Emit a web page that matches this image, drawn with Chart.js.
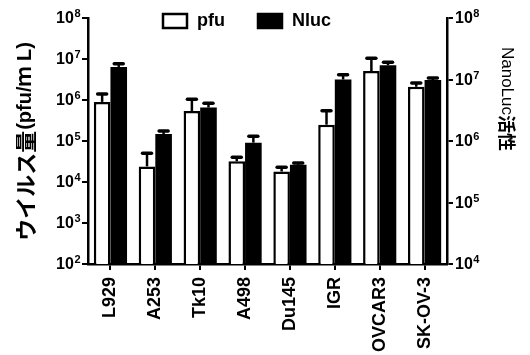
<!DOCTYPE html>
<html>
<head>
<meta charset="utf-8">
<script src="https://cdn.jsdelivr.net/npm/chart.js@4/dist/chart.umd.min.js"></script>
<style>
  html, body { margin: 0; padding: 0; background: #fff; }
  #wrap { width: 530px; height: 355px; }
</style>
</head>
<body>
<div id="wrap"><canvas id="chart" width="530" height="355"></canvas></div>
<script>
// donnees
const cellLines = ['L929', 'A253', 'Tk10', 'A498', 'Du145', 'IGR', 'OVCAR3', 'SK-OV-3'];
const pfuValues = [9.0e5, 2.4e4, 5.4e5, 3.2e4, 1.8e4, 2.5e5, 5.1e6, 2.1e6];
const pfuUpper = [1.4e6, 5.0e4, 1.05e6, 4.0e4, 2.3e4, 5.5e5, 1.05e7, 2.6e6];
const nlucValues = [1.6e7, 1.3e6, 3.5e6, 9.4e5, 4.1e5, 1.0e7, 1.7e7, 9.8e6];
const nlucUpper = [1.8e7, 1.45e6, 4.1e6, 1.2e6, 4.4e5, 1.2e7, 1.9e7, 1.06e7];
const leftTicks = [1e2, 1e3, 1e4, 1e5, 1e6, 1e7, 1e8];
const rightTicks = [1e4, 1e5, 1e6, 1e7, 1e8];

const LATIN = "'Liberation Sans', Arial, sans-serif";
const CJK = "'Noto Sans CJK JP', sans-serif";

// barres d'erreur (vers le haut seulement)
const errorBars = {
    id: 'errorBars',
    afterDatasetsDraw(chart) {
        const ctx = chart.ctx;
        chart.data.datasets.forEach((ds, di) => {
            const meta = chart.getDatasetMeta(di);
            const yScale = chart.scales[ds.yAxisID];
            meta.data.forEach((bar, i) => {
                const top = yScale.getPixelForValue(ds.upper[i]);
                ctx.save();
                ctx.strokeStyle = '#000';
                ctx.lineWidth = 2.5;
                ctx.beginPath();
                ctx.moveTo(bar.x, bar.y);
                ctx.lineTo(bar.x, top);
                ctx.stroke();
                ctx.lineWidth = 3.5;
                ctx.lineCap = 'round';
                ctx.beginPath();
                ctx.moveTo(bar.x - 4.5, top);
                ctx.lineTo(bar.x + 4.5, top);
                ctx.stroke();
                ctx.restore();
            });
        });
    }
};

// etiquettes 10^n avec exposant
function drawPowLabels(ctx, scale, values, side) {
    values.forEach((v) => {
        const y = scale.getPixelForValue(v);
        const exp = String(Math.round(Math.log10(v)));
        ctx.font = 'bold 16px ' + LATIN;
        const wBase = ctx.measureText('10').width;
        ctx.font = 'bold 11px ' + LATIN;
        const wExp = ctx.measureText(exp).width;
        let x = side === 'left' ? scale.right - 8 - wBase - wExp : scale.left + 8;
        ctx.textAlign = 'left';
        ctx.textBaseline = 'middle';
        ctx.font = 'bold 16px ' + LATIN;
        ctx.fillText('10', x, y + 1);
        ctx.font = 'bold 11px ' + LATIN;
        ctx.fillText(exp, x + wBase + 0.5, y - 4);
    });
}

// titres des axes + legende
const decorations = {
    id: 'decorations',
    afterDraw(chart) {
        const ctx = chart.ctx;
        ctx.save();
        ctx.fillStyle = '#000';

        drawPowLabels(ctx, chart.scales.y, leftTicks, 'left');
        drawPowLabels(ctx, chart.scales.y2, rightTicks, 'right');

        ctx.textBaseline = 'middle';
        // titre gauche
        const partA = 'ウイルス量';
        const partB = '(pfu/ｍ L)';
        const fontA = 'bold 22px ' + CJK;
        const fontB = 'bold 20px ' + LATIN + ', ' + CJK;
        ctx.font = fontA;
        const wA = ctx.measureText(partA).width;
        ctx.font = fontB;
        const wB = ctx.measureText(partB).width;
        ctx.save();
        ctx.translate(25, 142);
        ctx.rotate(-Math.PI / 2);
        let x = -(wA + wB) / 2;
        ctx.textAlign = 'left';
        ctx.font = fontA;
        ctx.fillText(partA, x, 1);
        ctx.font = fontB;
        ctx.fillText(partB, x + wA + 1, 0);
        ctx.restore();

        // titre droite
        const partC = 'NanoLuc';
        const partD = '活性';
        const fontC = '17px ' + LATIN;
        const fontD = 'bold 18px ' + CJK;
        ctx.font = fontC;
        const wC = ctx.measureText(partC).width;
        ctx.font = fontD;
        const wD = ctx.measureText(partD).width;
        ctx.save();
        ctx.translate(507, 99);
        ctx.rotate(Math.PI / 2);
        x = -(wC + wD) / 2;
        ctx.font = fontC;
        ctx.fillText(partC, x, 0);
        ctx.font = fontD;
        ctx.fillText(partD, x + wC, 0);
        ctx.restore();

        // legende
        const legendX = [163, 258];
        ctx.font = 'bold 18px ' + LATIN;
        chart.data.datasets.forEach((ds, di) => {
            const lx = legendX[di];
            ctx.fillStyle = ds.backgroundColor;
            ctx.fillRect(lx, 14, 24, 14);
            ctx.strokeStyle = '#000';
            ctx.lineWidth = 2.5;
            ctx.strokeRect(lx, 14, 24, 14);
            ctx.fillStyle = '#000';
            ctx.textAlign = 'left';
            ctx.fillText(ds.label, lx + 34, 21);
        });
        ctx.restore();
    }
};

const axisTickGrid = {
    drawOnChartArea: false,
    drawTicks: true,
    tickLength: 6,
    lineWidth: 2,
    color: '#000'
};

const ctx = document.getElementById('chart').getContext('2d');
new Chart(ctx, {
    type: 'bar',
    data: {
        labels: cellLines,
        datasets: [{
            label: 'pfu',
            data: pfuValues,
            upper: pfuUpper,
            yAxisID: 'y',
            backgroundColor: '#ffffff',
            borderColor: '#000000',
            borderWidth: 2.5,
            borderSkipped: 'start',
            categoryPercentage: 0.74,
            barPercentage: 1.0
        }, {
            label: 'Nluc',
            data: nlucValues,
            upper: nlucUpper,
            yAxisID: 'y2',
            backgroundColor: '#000000',
            borderColor: '#000000',
            borderWidth: 0,
            categoryPercentage: 0.74,
            barPercentage: 1.0
        }]
    },
    options: {
        responsive: false,
        animation: false,
        devicePixelRatio: 1,
        layout: { padding: { top: 18, left: 0, right: 0, bottom: 0 } },
        plugins: {
            legend: { display: false },
            tooltip: { enabled: false }
        },
        scales: {
            x: {
                afterFit: (s) => { s.height = 91; },
                grid: { ...axisTickGrid, offset: false },
                border: { display: true, color: '#000', width: 2.5 },
                ticks: {
                    autoSkip: false,
                    minRotation: 90,
                    maxRotation: 90,
                    padding: 7,
                    color: '#000',
                    font: { family: LATIN, size: 18, weight: 'bold' }
                }
            },
            y: {
                type: 'logarithmic',
                position: 'left',
                min: 1e2,
                max: 1e8,
                afterFit: (s) => { s.width = 88; },
                afterBuildTicks: (s) => { s.ticks = leftTicks.map(v => ({ value: v })); },
                grid: axisTickGrid,
                border: { display: true, color: '#000', width: 2.5 },
                ticks: { display: false }
            },
            y2: {
                type: 'logarithmic',
                position: 'right',
                min: 1e4,
                max: 1e8,
                afterFit: (s) => { s.width = 83; },
                afterBuildTicks: (s) => { s.ticks = rightTicks.map(v => ({ value: v })); },
                grid: axisTickGrid,
                border: { display: true, color: '#000', width: 2.5 },
                ticks: { display: false }
            }
        }
    },
    plugins: [errorBars, decorations]
});
</script>
</body>
</html>
